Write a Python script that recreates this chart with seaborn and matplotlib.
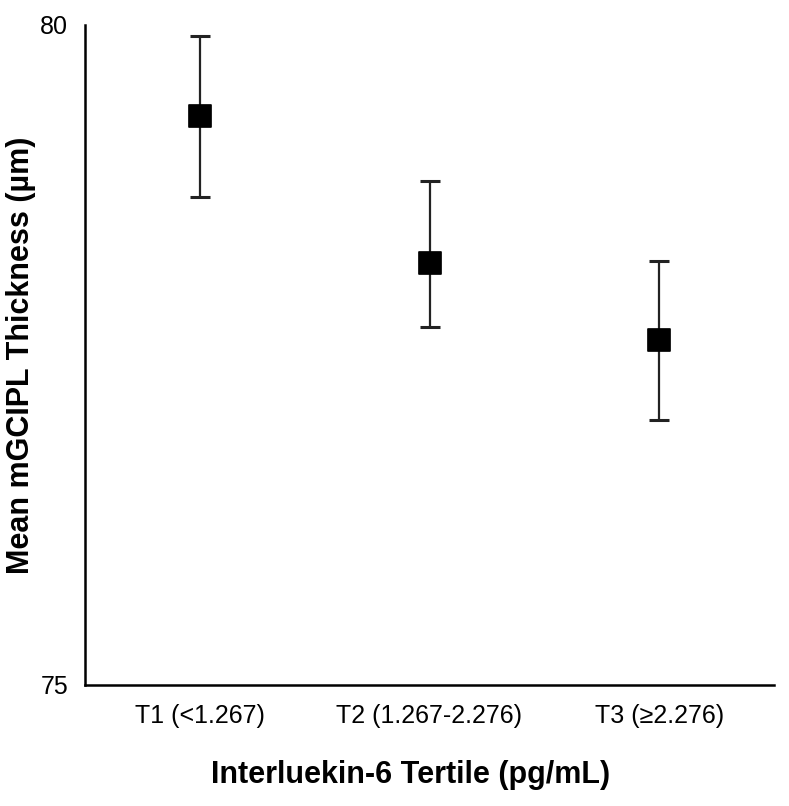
import matplotlib
matplotlib.use("Agg")
import matplotlib.pyplot as plt
import numpy as np
import pandas as pd
import seaborn as sns

tertiles = ["T1 (<1.267)", "T2 (1.267-2.276)", "T3 (\u22652.276)"]
mean_thickness = [79.31, 78.20, 77.61]
ci_upper = [79.92, 78.82, 78.21]
ci_lower = [78.70, 77.71, 77.01]

df = pd.DataFrame({"tertile": tertiles, "mean": mean_thickness,
                   "hi": ci_upper, "lo": ci_lower})

sns.set_style("white")
plt.rcParams["font.family"] = ["Liberation Sans", "DejaVu Sans"]
plt.rcParams["text.color"] = "black"
plt.rcParams["axes.labelcolor"] = "black"
plt.rcParams["xtick.color"] = "black"
plt.rcParams["ytick.color"] = "black"

fig = plt.figure(figsize=(7.89, 8.06), dpi=100)
ax = fig.add_axes([85 / 789, 1 - 685 / 806, (774 - 85) / 789, 660 / 806])

x = np.arange(len(df))
ax.errorbar(x, df["mean"], yerr=[df["mean"] - df["lo"], df["hi"] - df["mean"]],
            fmt="none", ecolor="#222222", elinewidth=1.6, capsize=7, capthick=2.2, zorder=2)
sns.scatterplot(x=x, y=df["mean"], marker="s", s=240, color="black",
                edgecolor="black", ax=ax, zorder=3, legend=False)

ax.set_xlim(-0.5, 2.5)
ax.set_ylim(75, 80)
ax.set_yticks([75, 80])
ax.set_xticks(x)
narrow = ["Liberation Sans Narrow", "Liberation Sans", "DejaVu Sans"]
ax.set_xticklabels(df["tertile"], fontsize=18, family=narrow)
ax.set_yticklabels(["75", "80"], fontsize=18, family=narrow)
ax.tick_params(axis="x", length=0, pad=14)
ax.tick_params(axis="y", length=0, pad=12)

for s in ["top", "right"]:
    ax.spines[s].set_visible(False)
for s in ["left", "bottom"]:
    ax.spines[s].set_color("black")
    ax.spines[s].set_linewidth(1.8)

ax.set_xlabel("Interluekin-6 Tertile (pg/mL)", fontsize=22, fontweight="bold")
ax.xaxis.set_label_coords(0.473, -0.114)
ax.set_ylabel("Mean mGCIPL Thickness (\u00b5m)", fontsize=22, fontweight="bold")
ax.yaxis.set_label_coords(-0.071, 0.5)

fig.savefig("out.png", dpi=100)
